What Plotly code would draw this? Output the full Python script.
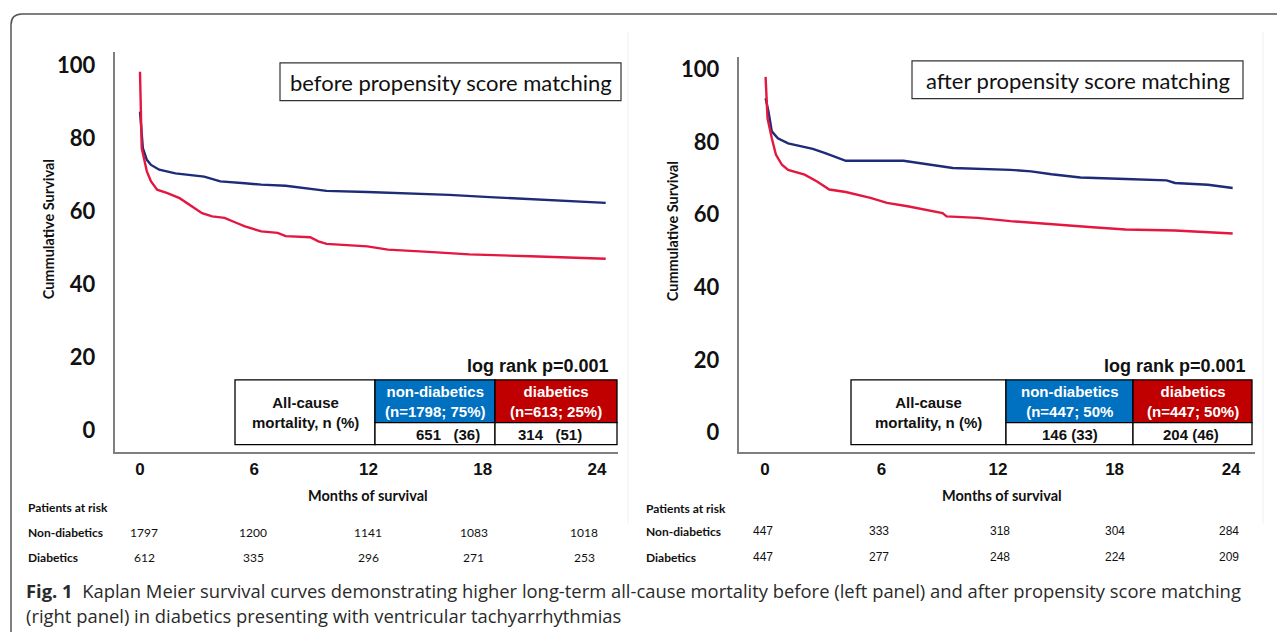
import plotly.graph_objects as go

# The page body has an 8px margin; the figure is sized to fill the rest of the window.
OFF = 8
W, H = 1285 - OFF, 632 - OFF

# ---------------- data ----------------
months_ticks = [0, 6, 12, 18, 24]
survival_ticks = [0, 20, 40, 60, 80, 100]

# Left panel: before propensity score matching
before_nondiab_t = [0.0, 0.15, 0.36, 0.58, 1.01, 1.86, 3.37, 4.22, 5.51, 6.37, 7.65, 8.94, 9.80,
                    11.94, 14.08, 16.23, 18.37, 20.52, 22.66, 24.46]
before_nondiab_s = [87.2, 77.2, 74.0, 72.6, 71.3, 70.3, 69.4, 68.1, 67.6, 67.2, 66.9, 66.1, 65.5,
                    65.2, 64.9, 64.4, 63.8, 63.3, 62.6, 62.2]
before_diab_t = [0.0, 0.09, 0.36, 0.58, 0.90, 1.44, 2.08, 2.72, 3.26, 3.79, 4.44, 5.08, 5.51,
                 6.37, 7.23, 7.65, 8.94, 9.37, 9.80, 11.94, 13.02, 15.16, 17.30, 20.52, 22.66, 24.46]
before_diab_s = [98.1, 77.2, 70.8, 68.1, 65.8, 64.9, 63.5, 61.3, 59.4, 58.5, 58.1, 56.7, 55.8,
                 54.4, 54.0, 53.1, 52.8, 51.7, 51.0, 50.3, 49.4, 48.8, 48.1, 47.6, 47.3, 46.9]

# Right panel: after propensity score matching
after_nondiab_t = [0.03, 0.18, 0.35, 0.66, 1.19, 2.04, 2.46, 3.10, 3.73, 4.16, 7.13, 8.40, 9.67,
                   12.64, 13.70, 14.75, 16.24, 18.57, 20.68, 21.11, 22.81, 24.08]
after_nondiab_s = [92.0, 88.3, 82.9, 81.0, 79.6, 78.7, 78.1, 76.9, 75.7, 74.8, 74.8, 73.7, 72.8,
                   72.3, 71.9, 71.1, 70.2, 69.8, 69.4, 68.7, 68.2, 67.3]
after_diab_t = [0.03, 0.13, 0.35, 0.56, 0.87, 1.19, 2.04, 2.68, 3.31, 4.16, 5.43, 6.28, 7.34,
                8.40, 9.14, 9.35, 10.94, 12.64, 14.75, 16.87, 18.57, 21.11, 24.08]
after_diab_s = [97.9, 86.5, 81.0, 76.5, 73.7, 72.3, 71.0, 69.1, 66.9, 66.2, 64.6, 63.2, 62.3,
                61.1, 60.4, 59.5, 59.1, 58.2, 57.3, 56.5, 55.9, 55.6, 54.8]

panel_titles = ["before propensity score matching", "after propensity score matching"]
logrank_text = "log rank p=0.001"
table_row_label = "All-cause<br>mortality, n (%)"
before_headers = ["non-diabetics<br>(n=1798; 75%)", "diabetics<br>(n=613; 25%)"]
before_mortality = ["651   (36)", "314   (51)"]
after_headers = ["non-diabetics<br>(n=447; 50%", "diabetics<br>(n=447; 50%)"]
after_mortality = ["146 (33)", "204 (46)"]

risk_labels = ["Non-diabetics", "Diabetics"]
before_risk_nondiab = [1797, 1200, 1141, 1083, 1018]
before_risk_diab = [612, 335, 296, 271, 253]
after_risk_nondiab = [447, 333, 318, 304, 284]
after_risk_diab = [447, 277, 248, 224, 209]

caption_line1 = ("<b>Fig. 1</b>  Kaplan Meier survival curves demonstrating higher long-term all-cause "
                 "mortality before (left panel) and after propensity score matching")
caption_line2 = "(right panel) in diabetics presenting with ventricular tachyarrhythmias"

# ---------------- styling ----------------
BLUE_LINE = "#1e2b78"
RED_LINE = "#e3173f"
CELL_BLUE = "#0070c0"
CELL_RED = "#c00000"
AXIS_GRAY = "#7f7f7f"


def px(x):
    return (x - OFF) / W


def py(y):
    return 1 - (y - OFF) / H


fig = go.Figure()

fig.add_trace(go.Scatter(x=before_nondiab_t, y=before_nondiab_s, mode="lines",
                         line=dict(color=BLUE_LINE, width=2.4), xaxis="x", yaxis="y",
                         showlegend=False, hoverinfo="skip"))
fig.add_trace(go.Scatter(x=before_diab_t, y=before_diab_s, mode="lines",
                         line=dict(color=RED_LINE, width=2.4), xaxis="x", yaxis="y",
                         showlegend=False, hoverinfo="skip"))
fig.add_trace(go.Scatter(x=after_nondiab_t, y=after_nondiab_s, mode="lines",
                         line=dict(color=BLUE_LINE, width=2.4), xaxis="x2", yaxis="y2",
                         showlegend=False, hoverinfo="skip"))
fig.add_trace(go.Scatter(x=after_diab_t, y=after_diab_s, mode="lines",
                         line=dict(color=RED_LINE, width=2.4), xaxis="x2", yaxis="y2",
                         showlegend=False, hoverinfo="skip"))

xtickfont = dict(family="Liberation Sans", size=17, color="#111", weight="bold")
ytickfont = dict(family="Lato", size=22, color="#111", weight="bold")

common_x = dict(showline=True, linecolor=AXIS_GRAY, linewidth=1.5, showgrid=False, zeroline=False,
                tickvals=months_ticks, ticktext=[str(v) for v in months_ticks],
                ticks="outside", ticklen=1, tickcolor="rgba(0,0,0,0)", tickfont=xtickfont,
                fixedrange=True)
common_y = dict(showline=True, linecolor=AXIS_GRAY, linewidth=1.5, showgrid=False, zeroline=False,
                tickvals=survival_ticks, ticktext=[str(v) for v in survival_ticks],
                ticks="outside", ticklen=13, tickcolor="rgba(0,0,0,0)", tickfont=ytickfont,
                fixedrange=True)

fig.update_layout(
    width=W, height=H,
    margin=dict(l=0, r=0, t=0, b=0),
    paper_bgcolor="white", plot_bgcolor="white",
    xaxis=dict(domain=[px(114.5), px(618)], range=[-1.339, 25.105], anchor="y", **common_x),
    yaxis=dict(domain=[py(451), py(50)], range=[-5.87, 103.55], anchor="x", **common_y),
    xaxis2=dict(domain=[px(738.5), px(1255)], range=[-1.365, 25.23], anchor="y2", **common_x),
    yaxis2=dict(domain=[py(451), py(55)], range=[-5.21, 103.4], anchor="x2", **common_y),
)

shapes = []
annotations = []

# outer rounded frame
frame_path = (f"M {px(11)},{py(650)} L {px(11)},{py(23)} Q {px(11)},{py(12)} {px(22)},{py(12)} "
              f"L {px(1300)},{py(12)}")
shapes.append(dict(type="path", xref="paper", yref="paper", path=frame_path,
                   line=dict(color="#555555", width=1.5)))
# faint panel edges
for xe in (628, 1263):
    shapes.append(dict(type="line", xref="paper", yref="paper", x0=px(xe), x1=px(xe),
                       y0=py(30), y1=py(523), line=dict(color="#f0f0f0", width=1)))


def add_rect(x0, y0, x1, y1, fill="white", lw=1.3):
    shapes.append(dict(type="rect", xref="paper", yref="paper", x0=px(x0), x1=px(x1),
                       y0=py(y1), y1=py(y0), fillcolor=fill, line=dict(color="black", width=lw)))


def add_text(x, y, text, size, family="Liberation Sans", color="black", bold=False,
             xanchor="center", angle=0, align="center"):
    annotations.append(dict(xref="paper", yref="paper", x=px(x), y=py(y), text=text,
                            showarrow=False, xanchor=xanchor, yanchor="middle", textangle=angle,
                            align=align,
                            font=dict(family=family, size=size, color=color,
                                      weight="bold" if bold else "normal")))


# panel titles boxes
title_boxes = [(280, 61, 621, 99), (912, 59, 1243, 97)]
for (x0, y0, x1, y1), t in zip(title_boxes, panel_titles):
    shapes.append(dict(type="rect", xref="paper", yref="paper", x0=px(x0), x1=px(x1),
                       y0=py(y1), y1=py(y0), fillcolor="white", line=dict(color="#333", width=1.2)))
    add_text((x0 + x1) / 2, (y0 + y1) / 2 + 1, t, 22, family="Lato", color="#111")

# axis titles
for xc, yc in ((48, 228), (672, 230)):
    add_text(xc, yc, "Cummulative Survival", 14.5, family="Lato", bold=True, angle=-90, color="#111")
for xc in (368, 1002):
    add_text(xc, 495, "Months of survival", 14.5, family="Lato", bold=True, color="#111")

# log rank + tables
tables = [
    dict(x=[235, 375, 495, 617], lr_x=611, headers=before_headers, mort=before_mortality,
         mort_x=[448, 550]),
    dict(x=[851, 1006, 1133, 1252], lr_x=1248, headers=after_headers, mort=after_mortality,
         mort_x=[1070, 1191]),
]
ytop, ymid, ybot = 379, 422, 444
for tb in tables:
    xs = tb["x"]
    add_text(tb["lr_x"], 365, logrank_text, 18, bold=True, xanchor="right", color="#111")
    add_rect(xs[0], ytop, xs[1], ybot)
    add_rect(xs[1], ytop, xs[2], ymid, fill=CELL_BLUE)
    add_rect(xs[2], ytop, xs[3], ymid, fill=CELL_RED)
    add_rect(xs[1], ymid, xs[2], ybot)
    add_rect(xs[2], ymid, xs[3], ybot)
    add_text((xs[0] + xs[1]) / 2, 412, table_row_label, 15, bold=True, color="#111")
    add_text((xs[1] + xs[2]) / 2, 401, tb["headers"][0], 15, bold=True, color="white")
    add_text((xs[2] + xs[3]) / 2, 401, tb["headers"][1], 15, bold=True, color="white")
    add_text(tb["mort_x"][0], 434, tb["mort"][0], 15, bold=True, color="#111")
    add_text(tb["mort_x"][1], 434, tb["mort"][1], 15, bold=True, color="#111")

# patients at risk
risk_sets = [
    dict(lx=26, ys=(507, 532, 557), xs=[144, 253, 368, 474, 584],
         rows=[before_risk_nondiab, before_risk_diab], fam="Lato"),
    dict(lx=644, ys=(508, 531, 557), xs=[763, 879, 1000, 1115, 1229],
         rows=[after_risk_nondiab, after_risk_diab], fam="Liberation Sans"),
]
for rs in risk_sets:
    add_text(rs["lx"], rs["ys"][0], "Patients at risk", 12, family="Lato", bold=True,
             xanchor="left", color="#111")
    for label, row, yv in zip(risk_labels, rs["rows"], rs["ys"][1:]):
        add_text(rs["lx"], yv, label, 12, family="Lato", bold=True, xanchor="left", color="#111")
        for xv, val in zip(rs["xs"], row):
            add_text(xv, yv, str(val), 12, family=rs["fam"], color="#111")

# caption
add_text(24, 590, caption_line1, 18.4, family="Open Sans", color="#2a2a2a", xanchor="left", align="left")
add_text(24, 615, caption_line2, 18.4, family="Open Sans", color="#2a2a2a", xanchor="left", align="left")

fig.update_layout(shapes=shapes, annotations=annotations)
fig.write_html("out.html")
